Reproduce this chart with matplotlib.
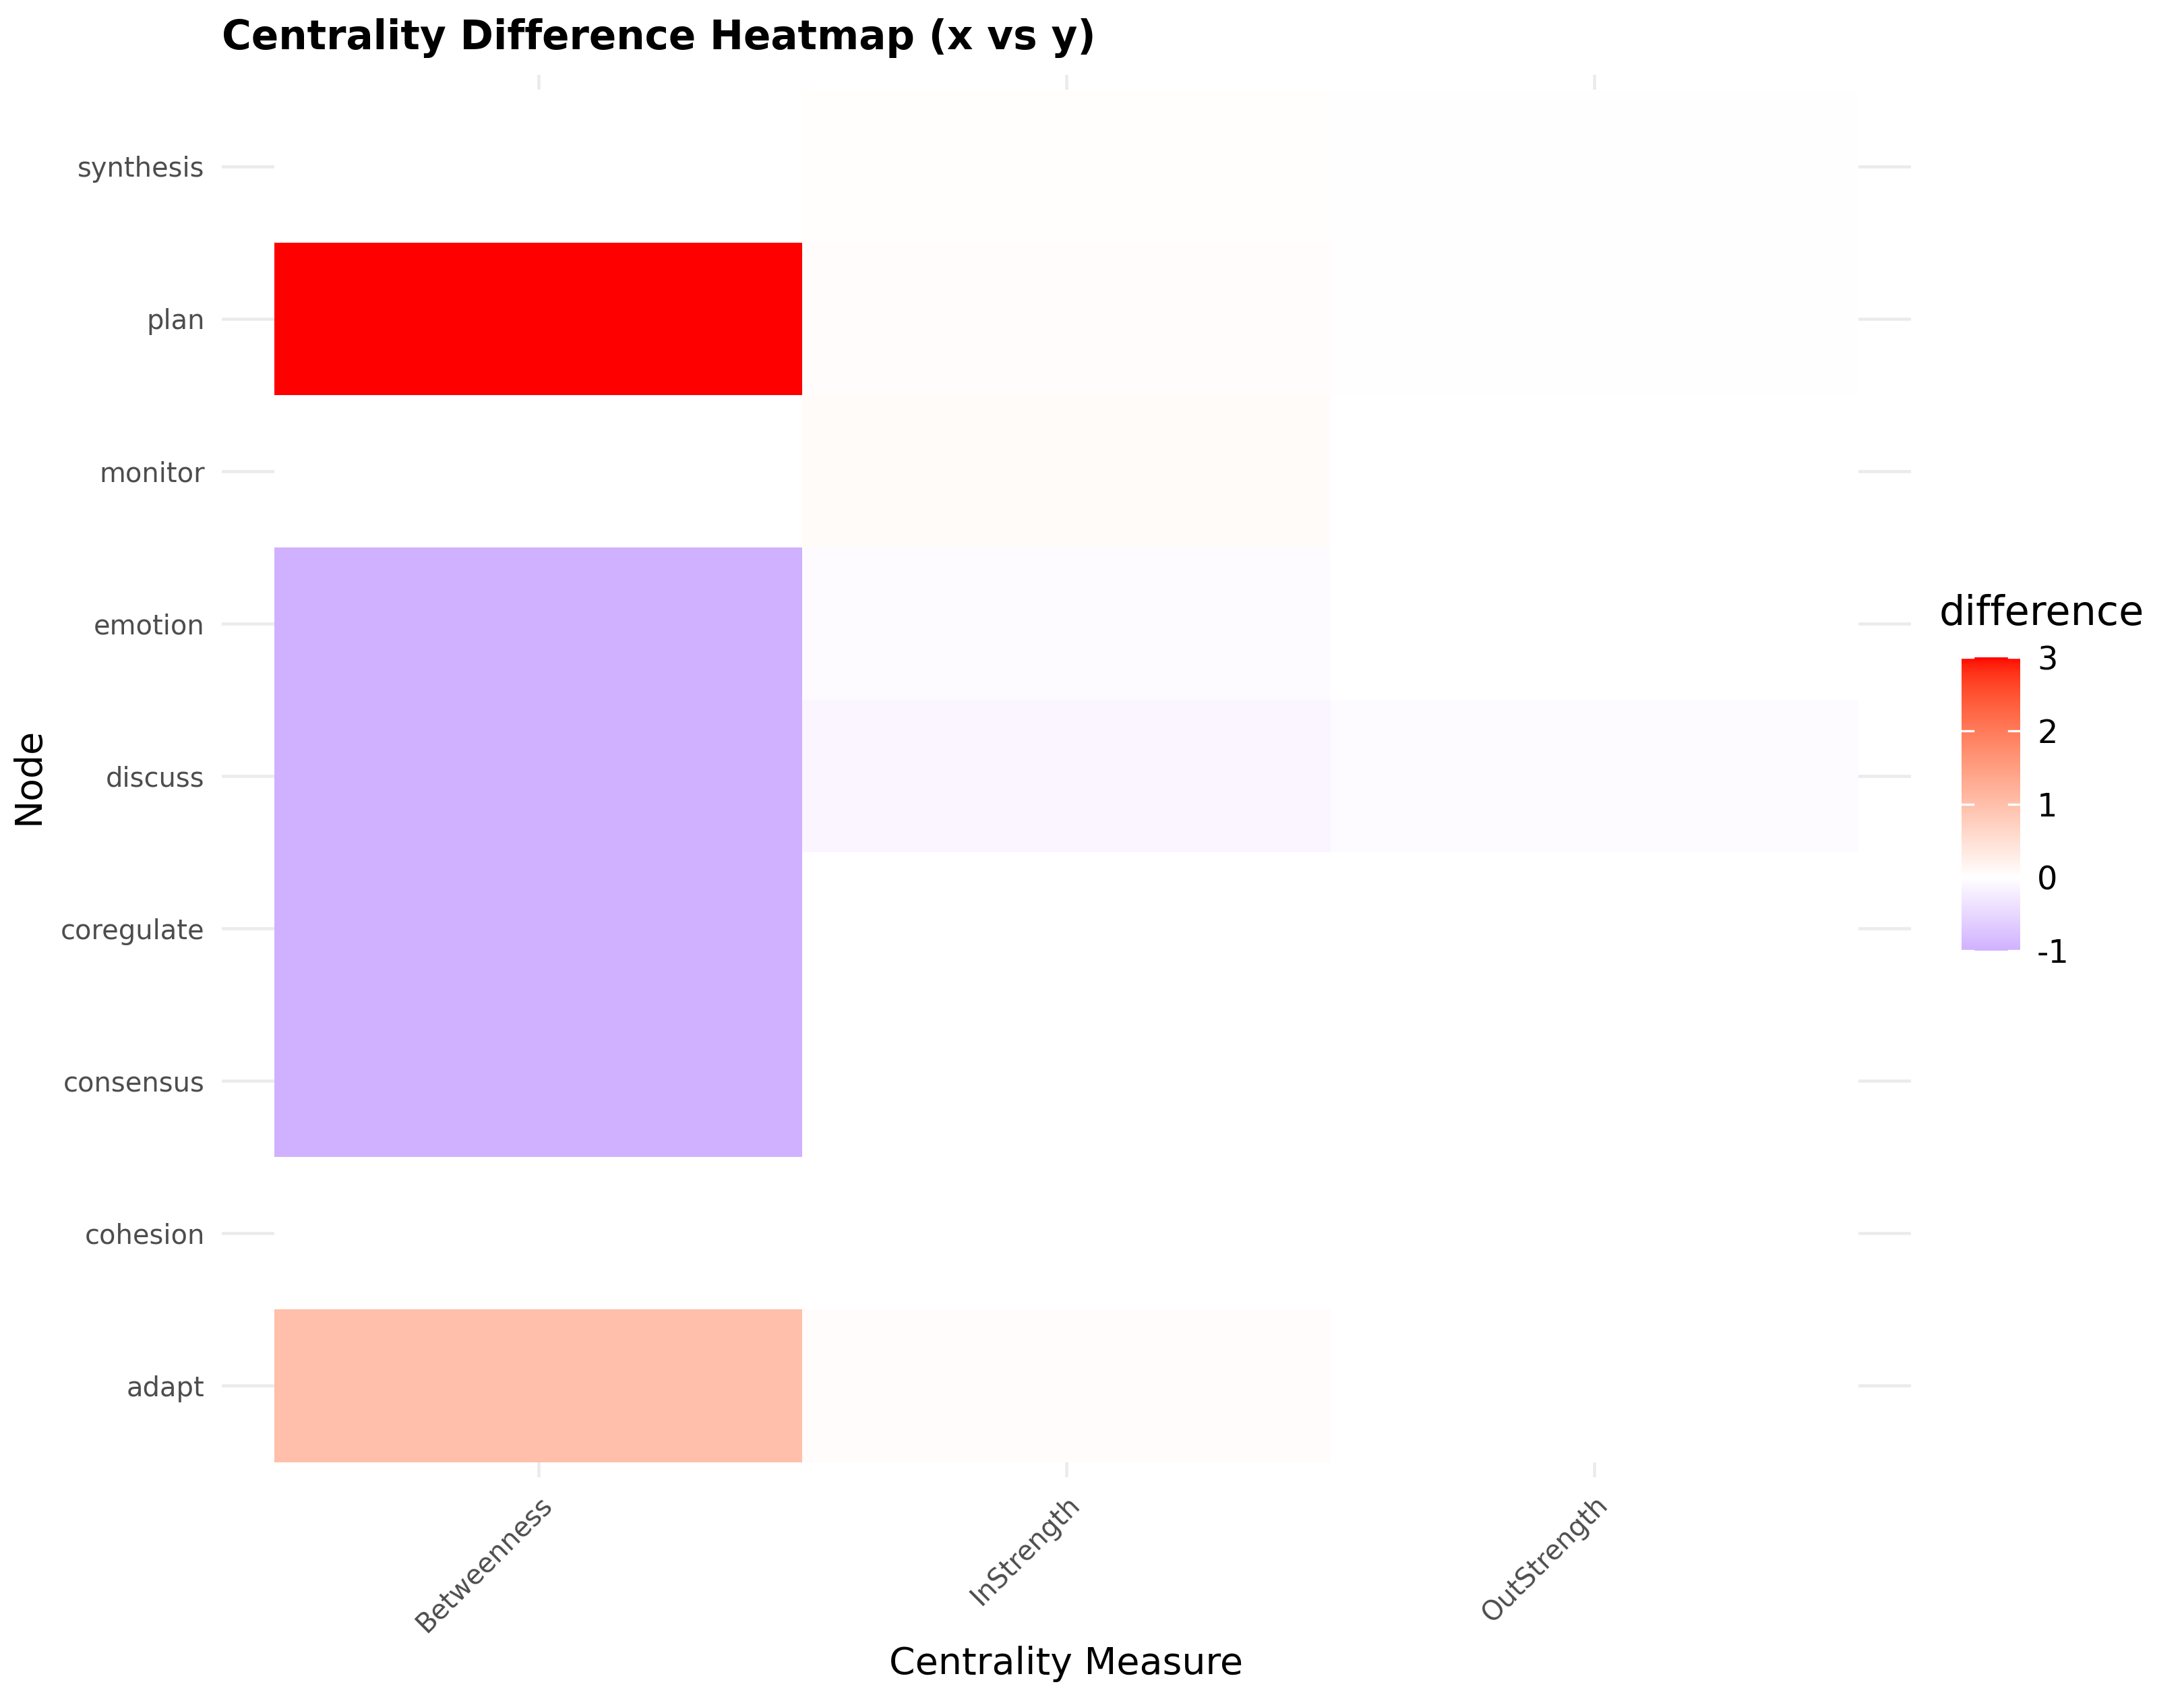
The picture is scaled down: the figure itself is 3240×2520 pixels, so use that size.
import matplotlib
matplotlib.use("Agg")
import matplotlib.pyplot as plt
import numpy as np
from matplotlib.colors import ListedColormap, Normalize

# data
nodes = ["adapt", "cohesion", "consensus", "coregulate", "discuss",
         "emotion", "monitor", "plan", "synthesis"]
measures = ["Betweenness", "InStrength", "OutStrength"]
betweenness = [1.0, 0.0, -1.0, -1.0, -1.0, -1.0, 0.0, 3.0, 0.0]
instrength = [0.05, 0.0, 0.0, 0.0, -0.12, -0.05, 0.07, 0.05, 0.02]
outstrength = [0.0, 0.0, 0.005, 0.005, -0.04, 0.0, 0.0, 0.015, 0.01]

diff = np.array([betweenness, instrength, outstrength]).T


# gradient2 style colours: blue - white - red, interpolated in Lab
def srgb_to_lab(rgb):
    rgb = np.asarray(rgb, dtype=float)
    lin = np.where(rgb > 0.04045, ((rgb + 0.055) / 1.055) ** 2.4, rgb / 12.92)
    m = np.array([[0.4124, 0.3576, 0.1805],
                  [0.2126, 0.7152, 0.0722],
                  [0.0193, 0.1192, 0.9505]])
    xyz = m @ lin / np.array([0.95047, 1.0, 1.08883])
    f = np.where(xyz > 0.008856, np.cbrt(xyz), 7.787 * xyz + 16 / 116)
    return np.array([116 * f[1] - 16, 500 * (f[0] - f[1]), 200 * (f[1] - f[2])])


def lab_to_srgb(lab):
    L, a, b = lab
    fy = (L + 16) / 116
    fx = fy + a / 500
    fz = fy - b / 200
    f = np.array([fx, fy, fz])
    xyz = np.where(f ** 3 > 0.008856, f ** 3, (f - 16 / 116) / 7.787)
    xyz = xyz * np.array([0.95047, 1.0, 1.08883])
    minv = np.array([[3.2406, -1.5372, -0.4986],
                     [-0.9689, 1.8758, 0.0415],
                     [0.0557, -0.2040, 1.0570]])
    lin = minv @ xyz
    rgb = np.where(lin > 0.0031308, 1.055 * np.abs(lin) ** (1 / 2.4) - 0.055, 12.92 * lin)
    return np.clip(rgb, 0, 1)


lab_low = srgb_to_lab([0, 0, 1])
lab_mid = srgb_to_lab([1, 1, 1])
lab_high = srgb_to_lab([1, 0, 0])

vmin, vmax = diff.min(), diff.max()
span = max(abs(vmin), abs(vmax))
vals = np.linspace(vmin, vmax, 512)
cols = []
for v in vals:
    t = v / span
    if t < 0:
        lab = lab_mid + (-t) * (lab_low - lab_mid)
    else:
        lab = lab_mid + t * (lab_high - lab_mid)
    cols.append(lab_to_srgb(lab))
cmap = ListedColormap(cols)
norm = Normalize(vmin, vmax)

fig = plt.figure(figsize=(10.8, 8.4), dpi=300)
ax = fig.add_axes([0.1015, 0.1305, 0.7735, 0.8255])

ax.pcolormesh(np.arange(len(measures) + 1) - 0.5, np.arange(len(nodes) + 1) - 0.5,
              diff, cmap=cmap, norm=norm, zorder=2)

ax.set_xlim(-0.6, len(measures) - 0.4)
ax.set_ylim(-0.6, len(nodes) - 0.4)
ax.set_xticks(range(len(measures)))
ax.set_xticklabels(measures, rotation=45, ha="right", va="top",
                   rotation_mode="anchor", color="#4D4D4D", fontsize=9.6)
ax.set_yticks(range(len(nodes)))
ax.set_yticklabels(nodes, color="#4D4D4D", fontsize=9.6)
ax.tick_params(axis="y", length=0, pad=6)
ax.tick_params(axis="x", length=0, pad=5)
ax.grid(True, color="#EBEBEB", linewidth=1.1, zorder=0)
ax.set_axisbelow(True)
for s in ax.spines.values():
    s.set_visible(False)

ax.set_xlabel("Centrality Measure", fontsize=13.3, labelpad=3)
ax.set_ylabel("Node", fontsize=13.3, labelpad=5)
ax.set_title("Centrality Difference Heatmap (x vs y)", fontsize=14.3,
             fontweight="bold", loc="left", pad=9)

# colour bar legend
cax = fig.add_axes([0.8980, 0.4405, 0.027, 0.1725])
cb = fig.colorbar(plt.cm.ScalarMappable(norm=norm, cmap=cmap), cax=cax)
cb.outline.set_visible(False)
cb.set_ticks([-1, 0, 1, 2, 3])
cb.set_ticklabels(["-1", "0", "1", "2", "3"])
cax.tick_params(length=0, labelsize=11.5, pad=6)
for t in [-1, 0, 1, 2, 3]:
    cax.axhline(t, xmin=0, xmax=0.2, color="white", linewidth=0.8)
    cax.axhline(t, xmin=0.8, xmax=1, color="white", linewidth=0.8)
fig.text(0.888, 0.627, "difference", fontsize=14.5, ha="left", va="bottom")

fig.savefig("out.png", dpi=300)
